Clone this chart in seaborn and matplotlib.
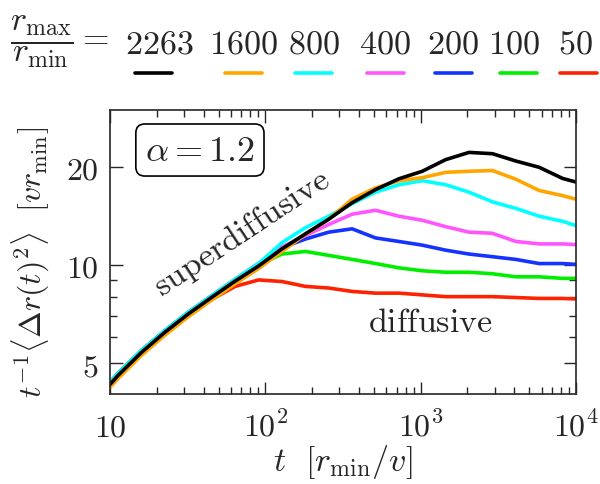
import numpy as np
import pandas as pd
import matplotlib
matplotlib.use("Agg")
import matplotlib.pyplot as plt
import matplotlib.ticker as mticker
from matplotlib.lines import Line2D
import seaborn as sns

# time grid (r_min/v)
t = [8, 11.3, 16, 22.6, 32, 45.3, 64, 90.5, 128, 181, 256, 362, 512, 724,
     1024, 1448, 2048, 2896, 4096, 5793, 8192, 11585]

# t^-1 <dr^2>  for each r_max/r_min
msd_2263 = [3.83, 4.6, 5.41, 6.23, 7.09, 7.97, 8.93, 9.93, 11.2, 12.45, 13.8, 15.5,
            17.0, 18.35, 19.35, 21.0, 22.1, 21.9, 20.8, 19.9, 18.4, 17.6]
msd_1600 = [3.76, 4.5, 5.3, 6.1, 6.95, 7.82, 8.76, 9.75, 11.0, 12.4, 13.8, 15.9,
            17.2, 18.1, 18.5, 19.2, 19.35, 19.45, 18.3, 16.9, 16.3, 15.6]
msd_800 = [3.88, 4.66, 5.48, 6.3, 7.17, 8.06, 9.04, 10.1, 11.7, 13.0, 14.1, 15.4,
           16.7, 17.6, 18.1, 17.6, 16.7, 15.6, 14.9, 14.1, 13.6, 12.9]
msd_400 = [3.87, 4.65, 5.46, 6.28, 7.15, 8.04, 9.02, 10.05, 11.35, 12.3, 13.3, 14.3,
           14.7, 14.1, 13.7, 13.1, 12.6, 12.5, 11.8, 11.6, 11.6, 11.5]
msd_200 = [3.88, 4.66, 5.48, 6.3, 7.17, 8.06, 9.04, 10.1, 11.3, 12.0, 12.6, 12.9,
           12.1, 11.8, 11.5, 11.1, 10.8, 10.6, 10.4, 10.1, 10.1, 10.0]
msd_100 = [3.9, 4.67, 5.48, 6.29, 7.15, 8.03, 9.0, 10.0, 10.8, 11.0, 10.7, 10.4,
           10.1, 9.8, 9.6, 9.5, 9.5, 9.4, 9.2, 9.2, 9.1, 9.1]
msd_50 = [3.85, 4.62, 5.43, 6.25, 7.1, 7.85, 8.6, 9.0, 8.9, 8.6, 8.5, 8.3,
          8.2, 8.2, 8.1, 8.0, 8.0, 8.0, 7.95, 7.9, 7.9, 7.85]

ratios = ["2263", "1600", "800", "400", "200", "100", "50"]
series = [msd_2263, msd_1600, msd_800, msd_400, msd_200, msd_100, msd_50]
colors = ["#000000", "#ffa500", "#00ffff", "#ff55ff", "#1433ff", "#00ee00", "#ff2200"]

xticks = [10, 100, 1000, 10000]
xtick_labels = [r"$10$", r"$10^2$", r"$10^3$", r"$10^4$"]
yticks = [5, 10, 20]
ytick_labels = [r"$5$", r"$10$", r"$20$"]

sns.set_style("ticks")
plt.rcParams["mathtext.fontset"] = "cm"
plt.rcParams["font.family"] = ["DejaVu Serif"]
FS = 23
FS_TXT = 24.5

fig = plt.figure(figsize=(6, 4.85), dpi=100)
ax = fig.add_axes([0.1833, 0.1856, 0.7767, 0.5856])

# draw smallest ratio first so black ends on top
for r, vals, c in reversed(list(zip(ratios, series, colors))):
    df = pd.DataFrame({"t": t, "msd": vals})
    sns.lineplot(data=df, x="t", y="msd", color=c, lw=2.6, ax=ax,
                 estimator=None, sort=False)

ax.set_xscale("log")
ax.set_yscale("log")
ax.set_xlim(10, 1e4)
ax.set_ylim(4.03, 29.8)

ax.xaxis.set_major_locator(mticker.FixedLocator(xticks))
ax.xaxis.set_major_formatter(mticker.FixedFormatter(xtick_labels))
ax.xaxis.set_minor_locator(mticker.LogLocator(base=10, subs=np.arange(2, 10)))
ax.xaxis.set_minor_formatter(mticker.NullFormatter())
ax.yaxis.set_major_locator(mticker.FixedLocator(yticks))
ax.yaxis.set_major_formatter(mticker.FixedFormatter(ytick_labels))
ax.yaxis.set_minor_locator(mticker.FixedLocator([6, 7, 8, 9]))
ax.yaxis.set_minor_formatter(mticker.NullFormatter())

ax.tick_params(which="both", direction="in", top=True, right=True,
               labelsize=FS, width=1.0)
ax.tick_params(which="major", length=9)
ax.tick_params(which="minor", length=5)
ax.tick_params(axis="y", pad=8)
ax.tick_params(axis="x", pad=30)
for lab in ax.get_xticklabels():
    lab.set_verticalalignment("baseline")
for s in ax.spines.values():
    s.set_linewidth(1.2)

ax.set_xlabel(r"$t\ \ [r_{\min}/v]$", fontsize=FS_TXT)
ax.set_ylabel(r"$t^{-1}\langle\Delta r(t)^2\rangle\ \ [v r_{\min}]$", fontsize=FS)
ax.xaxis.set_label_coords(0.5, -0.17)
ax.yaxis.set_label_coords(-0.125, 0.468)

ax.text(0.193, 0.859, r"$\alpha = 1.2$", transform=ax.transAxes, fontsize=26,
        ha="center", va="center",
        bbox=dict(boxstyle="round,pad=0.25", fc="white", ec="black", lw=1.2))
ax.text(0.282, 0.57, r"$\mathrm{superdiffusive}$", transform=ax.transAxes,
        fontsize=FS_TXT, ha="center", va="center", rotation=33.5)
ax.text(0.687, 0.253, r"$\mathrm{diffusive}$", transform=ax.transAxes,
        fontsize=FS_TXT, ha="center", va="center")

# header legend: ratio labels with short coloured dashes below
fig.text(10 / 600, 1 - 42 / 485, r"$\dfrac{r_{\max}}{r_{\min}}=$", fontsize=FS_TXT,
         ha="left", va="center")
text_x = [159, 243, 314, 385, 452.5, 514, 575]
dash_x = [153, 243.5, 313.5, 385.5, 453.5, 518.5, 578]
for r, c, tx, dx in zip(ratios, colors, text_x, dash_x):
    fig.text(tx / 600, 1 - 53 / 485, r"$%s$" % r, fontsize=FS_TXT,
             ha="center", va="baseline")
    fig.add_artist(Line2D([(dx - 18.5) / 600, (dx + 18.5) / 600],
                          [1 - 74 / 485, 1 - 74 / 485],
                          color=c, lw=2.6, transform=fig.transFigure))

fig.savefig("out.png", dpi=100)
plt.close(fig)
